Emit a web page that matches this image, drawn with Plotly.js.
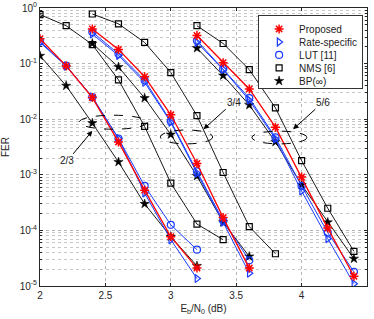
<!DOCTYPE html>
<html>
<head>
<meta charset="utf-8">
<script src="https://cdn.plot.ly/plotly-3.0.1.min.js"></script>
<style>html,body{margin:0;padding:0;background:#fff;}#chart{width:374px;height:319px;}</style>
</head>
<body>
<div id="chart"></div>
<script>
// ---- data ----
const x23 = [2.0, 2.2, 2.4, 2.6, 2.8, 3.0, 3.2];
const x23nms = [2.0, 2.2, 2.4, 2.6, 2.8, 3.0, 3.2, 3.4];
const x34 = [2.4, 2.6, 2.8, 3.0, 3.2, 3.4, 3.6];
const x34nms = [2.4, 2.6, 2.8, 3.0, 3.2, 3.4, 3.6, 3.8];
const x56 = [3.2, 3.4, 3.6, 3.8, 4.0, 4.2, 4.4];

const proposed23 = [0.28, 0.091, 0.0245, 0.0039, 5.3e-4, 7.7e-5, 2.1e-5];
const rateSpec23 = [0.24, 0.090, 0.025, 0.0045, 4.7e-4, 6.8e-5, 1.36e-5];
const lut23      = [0.25, 0.092, 0.025, 0.0045, 6.3e-4, 1.26e-4, 4.5e-5];
const nms23      = [0.76, 0.48, 0.22, 0.051, 0.0074, 7.1e-4, 1.3e-4, 6.8e-5];
const bp23       = [0.138, 0.040, 0.0085, 1.7e-3, 3.0e-4, 7.7e-5, 2.3e-5];

const proposed34 = [0.42, 0.18, 0.058, 0.012, 1.6e-3, 1.7e-4, 2.1e-5];
const rateSpec34 = [0.34, 0.14, 0.046, 0.0088, 1.07e-3, 1.4e-4, 1.7e-5];
const lut34      = [0.37, 0.15, 0.050, 0.0092, 1.15e-3, 1.5e-4, 2.9e-5];
const nms34      = [0.78, 0.52, 0.24, 0.069, 0.0116, 1.1e-3, 1.17e-4, 3.8e-5];
const bp34       = [0.23, 0.087, 0.024, 0.0053, 9.5e-4, 1.4e-4, 3.4e-5];

const proposed56 = [0.32, 0.104, 0.035, 0.0072, 9.1e-4, 1.1e-4, 1.5e-5];
const rateSpec56 = [0.24, 0.078, 0.022, 0.0044, 5.1e-4, 7.1e-5, 1.1e-5];
const lut56      = [0.26, 0.080, 0.024, 0.0047, 6.3e-4, 9.1e-5, 1.8e-5];
const nms56      = [0.48, 0.23, 0.078, 0.016, 1.8e-3, 2.5e-4, 4.2e-5];
const bp56       = [0.19, 0.061, 0.018, 0.0039, 6.6e-4, 1.4e-4, 3.1e-5];

const seriesNames = ['Proposed', 'Rate-specific', 'LUT [11]', 'NMS [6]', 'BP(\u221e)'];
const rateLabels = ['2/3', '3/4', '5/6'];
const xTickVals = [2, 2.5, 3, 3.5, 4, 4.5];
const xTickText = ['2', '2.5', '3', '3.5', '4', '4.5'];
const yTickVals = [1e-5, 1e-4, 1e-3, 1e-2, 1e-1, 1];
const yTickText = ['10<sup>-5</sup>', '10<sup>-4</sup>', '10<sup>-3</sup>', '10<sup>-2</sup>', '10<sup>-1</sup>', '10<sup>0</sup>'];

// ---- styles ----
const RED = '#ff0000', BLUE = '#1a3cff', BLACK = '#000000';
const styles = [
  {color: RED,   symbol: 'asterisk-open',       size: 7.5, lw: 1.3},
  {color: BLUE,  symbol: 'triangle-right-open', size: 7, lw: 1.0},
  {color: BLUE,  symbol: 'circle-open',         size: 7, lw: 1.0},
  {color: BLACK, symbol: 'square-open',         size: 6, lw: 0.9},
  {color: BLACK, symbol: 'star',                size: 7, lw: 0.9}
];

const groups = [
  {x: [x23, x23, x23, x23nms, x23], y: [proposed23, rateSpec23, lut23, nms23, bp23]},
  {x: [x34, x34, x34, x34nms, x34], y: [proposed34, rateSpec34, lut34, nms34, bp34]},
  {x: [x56, x56, x56, x56, x56],    y: [proposed56, rateSpec56, lut56, nms56, bp56]}
];

const markerOf = s => ({symbol: s.symbol, size: s.size, color: s.color,
  line: {color: s.color, width: s.symbol === 'star' ? 0.5 : (s.symbol === 'asterisk-open' ? 1.5 : 1.2)}});

const traces = [];
// draw order: black first, then blue, red on top
const order = [3, 4, 2, 1, 0];
groups.forEach(g => {
  order.forEach(i => {
    const s = styles[i];
    traces.push({
      type: 'scatter', mode: 'lines+markers',
      x: g.x[i], y: g.y[i], name: seriesNames[i], showlegend: false,
      line: {color: s.color, width: s.lw},
      marker: markerOf(s)
    });
  });
});
// legend entries (markers only, as in the reference)
styles.forEach((s, i) => {
  traces.push({
    type: 'scatter', mode: 'markers', x: [null], y: [null], name: seriesNames[i],
    showlegend: true, hoverinfo: 'skip', marker: markerOf(s)
  });
});

// minor log grid values
const minorVals = [];
for (let e = -5; e < 0; e++) for (let d = 2; d <= 9; d++) minorVals.push(d * Math.pow(10, e));

const ell = {type: 'circle', xref: 'x', yref: 'y', line: {color: BLACK, width: 1, dash: 'dash'}};
const shapes = [
  Object.assign({}, ell, {x0: 2.30, x1: 2.82, y0: 6.6e-3, y1: 1.18e-2}),
  Object.assign({}, ell, {x0: 2.92, x1: 3.32, y0: 3.6e-3, y1: 6.4e-3}),
  Object.assign({}, ell, {x0: 3.62, x1: 4.04, y0: 3.6e-3, y1: 6.1e-3})
];

const annFont = {family: 'Liberation Sans, Arial, sans-serif', size: 10, color: '#222'};
const ann = (x, ly, ax, ay, text) => ({
  x: x, y: ly, xref: 'x', yref: 'y', text: text, showarrow: true,
  ax: ax, ay: ay, arrowhead: 2, arrowsize: 1.1, arrowwidth: 1, arrowcolor: BLACK,
  font: annFont, standoff: 0
});
const annotations = [
  ann(2.40, -2.21, -25, 30, rateLabels[0]),
  ann(3.25, -2.18, 30, -27, rateLabels[1]),
  ann(3.935, -2.18, 30, -27, rateLabels[2])
];

const axisFont = {family: 'Liberation Sans, Arial, sans-serif', size: 10, color: '#262626'};
const layout = {
  width: 374, height: 319,
  margin: {l: 40, r: 7, t: 8, b: 33, pad: 0},
  paper_bgcolor: '#fff', plot_bgcolor: '#fff',
  font: axisFont,
  showlegend: true,
  legend: {x: 0.667, y: 0.975, xanchor: 'left', yanchor: 'top',
           bgcolor: '#fff', bordercolor: '#333', borderwidth: 1,
           font: {family: 'Liberation Sans, Arial, sans-serif', size: 10, color: '#222'},
           itemwidth: 30, tracegroupgap: 0},
  xaxis: {
    range: [2, 4.5], tickmode: 'array', tickvals: xTickVals, ticktext: xTickText,
    showgrid: true, gridcolor: '#b5b5b5', griddash: 'dot', gridwidth: 1,
    zeroline: false, showline: true, linecolor: '#262626', linewidth: 1, mirror: 'allticks',
    ticks: 'inside', ticklen: 3, tickcolor: '#262626', tickfont: axisFont,
    title: {text: 'E<sub>b</sub>/N<sub>0</sub> (dB)', font: axisFont, standoff: 4}
  },
  yaxis: {
    type: 'log', range: [-5, 0], tickmode: 'array', tickvals: yTickVals, ticktext: yTickText,
    showgrid: true, gridcolor: '#b5b5b5', griddash: 'dot', gridwidth: 1,
    zeroline: false, showline: true, linecolor: '#262626', linewidth: 1, mirror: 'allticks',
    ticks: 'inside', ticklen: 3, tickcolor: '#262626', tickfont: axisFont,
    minor: {tickmode: 'array', tickvals: minorVals, showgrid: true, gridcolor: '#c8c8c8',
            griddash: 'dot', gridwidth: 1, ticks: 'inside', ticklen: 2, tickcolor: '#262626'},
    title: {text: 'FER', font: axisFont, standoff: 8}
  },
  shapes: shapes,
  annotations: annotations
};

Plotly.newPlot('chart', traces, layout, {displayModeBar: false, staticPlot: true}).then(gd => {
  // tighten legend row spacing to match the compact reference legend
  const leg = gd.querySelector('g.legend');
  if (!leg) return;
  const items = leg.querySelectorAll('g.traces');
  const rowGap = 13;
  let x0 = 0, y0 = 10;
  if (items.length) {
    const m = /translate\(\s*([-\d.]+)[ ,]+([-\d.]+)/.exec(items[0].getAttribute('transform') || '');
    if (m) { x0 = parseFloat(m[1]); y0 = parseFloat(m[2]) - 1.5; }
  }
  items.forEach((g, i) => g.setAttribute('transform', 'translate(' + x0 + ',' + (y0 + rowGap * i) + ')'));
  const h = y0 + rowGap * (items.length - 1) + 7;
  const bg = leg.querySelector('rect.bg');
  if (bg) bg.setAttribute('height', h);
  leg.querySelectorAll('clipPath rect').forEach(r => r.setAttribute('height', h));
});
</script>
</body>
</html>
